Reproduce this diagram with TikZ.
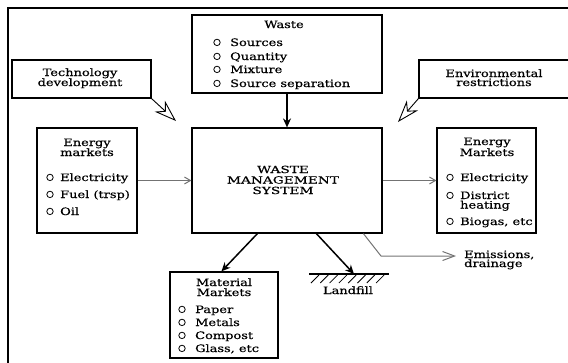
\documentclass[tikz,border=0pt]{standalone}
\usepackage{fontspec}
\setmainfont[FakeStretch=1.27,FakeBold=0.6]{DejaVu Serif}
\newfontfamily\wmsfont[FakeStretch=1.4,FakeBold=0.6]{DejaVu Serif}
\usetikzlibrary{arrows.meta}
\begin{document}
\begin{tikzpicture}[x=1pt,y=-1pt,
  box/.style={draw, line width=1.2pt, inner sep=0pt},
  ltxt/.style={inner sep=0pt, anchor=base west, font=\fontsize{10.2}{12}\selectfont},
  ctxt/.style={inner sep=0pt, anchor=base, font=\fontsize{10.2}{12}\selectfont},
  wtxt/.style={inner sep=0pt, anchor=base, font=\wmsfont\fontsize{9.8}{12}\selectfont},
  bul/.style={draw, line width=0.8pt},
  thick arrow/.style={draw, line width=1.7pt, -{Stealth[length=9pt,width=8pt]}},
  gray arrow/.style={draw, black!55, line width=1pt, -{Straight Barb[length=6pt,width=7pt]}},
  hollow/.style={draw, line width=0.9pt, -{Stealth[open,length=22pt,width=15pt,inset=7pt]}}
]
\useasboundingbox (0,0) rectangle (568,362);
% outer frame
\draw[line width=1.6pt] (8,370) -- (8,8) -- (580,8);

% boxes
\node[box, minimum width=190pt, minimum height=78pt] (waste) at (287,54) {};
\node[box, minimum width=139pt, minimum height=38pt] (tech) at (81.5,79) {};
\node[box, minimum width=161pt, minimum height=38pt] (env) at (499.5,79) {};
\node[box, minimum width=100pt, minimum height=105pt] (lem) at (87,180.5) {};
\node[box, minimum width=190pt, minimum height=105pt] (wms) at (287,180.5) {};
\node[box, minimum width=99pt, minimum height=105pt] (rem) at (486.5,180.5) {};
\node[box, minimum width=108pt, minimum height=86pt] (mat) at (224,315) {};

% Waste texts
\node[ctxt] (wt) at (284,28) {Waste};
\node[ltxt] (w1) at (230,46) {Sources};
\node[ltxt] (w2) at (230,60) {Quantity};
\node[ltxt] (w3) at (230,73) {Mixture};
\node[ltxt] (w4) at (230,87) {Source separation};
\foreach \y in {46,60,73,87} \draw[bul] (217,\y-3.6) circle (3.2pt);

% Technology / Environmental
\node[ctxt] (t1) at (80,76) {Technology};
\node[ctxt] (t2) at (80,86) {development};
\node[ctxt] (e1) at (494,77) {Environmental};
\node[ctxt] (e2) at (494,86) {restrictions};

% left energy markets
\node[ctxt] (l0) at (87,146) {Energy};
\node[ctxt] (l00) at (87,156) {markets};
\node[ltxt] (l1) at (60,181) {Electricity};
\node[ltxt] (l2) at (60,198) {Fuel (trsp)};
\node[ltxt] (l3) at (60,215) {Oil};
\foreach \y in {181,198,215} \draw[bul] (50,\y-3.6) circle (3.2pt);

% WMS
\node[wtxt] (m1) at (283,173) {WASTE};
\node[wtxt] (m2) at (283,183.5) {MANAGEMENT};
\node[wtxt] (m3) at (283,194) {SYSTEM};

% right energy markets
\node[ctxt] (r0) at (487,145) {Energy};
\node[ctxt] (r00) at (487,156) {Markets};
\node[ltxt] (r1) at (460,181) {Electricity};
\node[ltxt] (r2) at (460,199) {District};
\node[ltxt] (r3) at (460,208.5) {heating};
\node[ltxt] (r4) at (460,225) {Biogas, etc};
\foreach \y in {181,199,225} \draw[bul] (450,\y-3.6) circle (3.2pt);

% material markets
\node[ctxt] (mm0) at (224,286) {Material};
\node[ctxt] (mm00) at (224,296) {Markets};
\node[ltxt] (mm1) at (195,313) {Paper};
\node[ltxt] (mm2) at (195,326) {Metals};
\node[ltxt] (mm3) at (195,339) {Compost};
\node[ltxt] (mm4) at (195,352) {Glass, etc};
\foreach \y in {313,326,339,352} \draw[bul] (182,\y-3.6) circle (3.2pt);

% landfill
\coordinate (lfl) at (309,274);
\coordinate (lfr) at (389,274);
\coordinate (lf) at (354,274);
\draw[line width=1.2pt] (lfl) -- (lfr);
\foreach \i in {0,...,7} \draw[line width=0.8pt] (319+9.3*\i,275) -- (311+9.3*\i,283);
\node[ctxt] (lft) at (348,294) {Landfill};

% emissions
\node[ltxt] (em1) at (464,258) {Emissions,};
\node[ltxt] (em2) at (464,267) {drainage};
\coordinate (embend) at (381,256);
\coordinate (emend) at (456,256);

% connectors
\path[thick arrow] (waste.south) -- (wms.north);
\path[gray arrow] (lem.east) -- (wms.west);
\path[gray arrow] (wms.east) -- (rem.west);
\path[thick arrow, line width=1.5pt] ([xshift=66pt]wms.south west) -- ([xshift=52pt]mat.north west);
\path[thick arrow, line width=1.5pt] ([xshift=125pt]wms.south west) -- (lf);
\path[draw, black!55, line width=1pt, -{Straight Barb[length=12pt,width=9pt]}] ([xshift=172pt]wms.south west) -- (embend) -- (emend);
\coordinate (tip1) at (176,121);
\coordinate (tip2) at (398,122);
\path[hollow] (tech.south east) -- (tip1);
\path[hollow] (env.south west) -- (tip2);
\end{tikzpicture}
\end{document}
